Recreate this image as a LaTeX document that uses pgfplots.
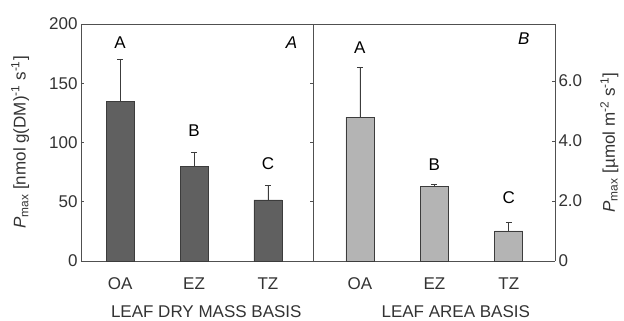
\documentclass[border=0pt]{standalone}
\usepackage{pgfplots}
\pgfplotsset{compat=1.18}
\usepackage{fontspec}
\setmainfont{Liberation Sans}
\definecolor{darkbar}{HTML}{606060}
\definecolor{lightbar}{HTML}{B4B4B4}
\definecolor{edge}{HTML}{3C3C3C}
\definecolor{axcol}{HTML}{505050}
\begin{document}
\begin{tikzpicture}[font=\fontsize{17}{19}\selectfont]
\useasboundingbox (0pt,0pt) rectangle (624pt,321pt);
\pgfplotsset{
  every axis/.append style={
    scale only axis,
    ymin=0,
    axis line style={axcol, line width=0.9pt},
    xtick={0,1,2},
    xticklabels={OA,EZ,TZ},
    x tick style={draw=none},
    tick label style={font=\fontsize{17}{19}\selectfont, text=black!80},
    label style={font=\fontsize{17}{19}\selectfont, text=black!80},
    /pgf/number format/assume math mode=true,
    clip=false,
    y tick style={axcol, line width=0.6pt},
    tick align=inside, major tick length=3pt,
    ybar, bar width=28pt,
    xticklabel style={anchor=center, yshift=-20pt},
  },
}
% Left panel
\begin{axis}[
  at={(81pt,60pt)}, anchor=south west,
  width=232pt, height=237pt,
  xmin=-0.53, xmax=2.61,
  ymax=200,
  ytick={0,50,100,150,200},
  ylabel={\textit{P}\textsubscript{max} [nmol g(DM)\textsuperscript{-1} s\textsuperscript{-1}]},
  ylabel style={at={(axis description cs:-0.262,0.5)}, anchor=center},
  xlabel={LEAF DRY MASS BASIS},
  xlabel style={at={(axis description cs:0.54,-0.215)}, anchor=center},
]
\addplot[fill=darkbar, draw=edge, line width=0.7pt,
  error bars/.cd, y dir=plus, y explicit, error mark=|,
  error bar style={edge, line width=0.8pt},
  error mark options={edge, line width=0.8pt, mark size=3pt}]
  coordinates {(0,135) +- (0,35.5) (1,80) +- (0,12) (2,51.5) +- (0,12.5)};
\node at (axis cs:0,184) {A};
\node at (axis cs:1,110) {B};
\node at (axis cs:2,82) {C};
\node at (axis cs:2.32,184) {\itshape A};
\end{axis}
% Right panel
\begin{axis}[
  at={(313pt,60pt)}, anchor=south west,
  width=242pt, height=237pt,
  xmin=-0.63, xmax=2.62,
  ymax=7.9,
  axis y line*=right,
  axis x line*=box,
  ytick={0,2,4,6},
  yticklabels={0,2.0,4.0,6.0},
  ylabel={\textit{P}\textsubscript{max} [\textmu mol m\textsuperscript{-2} s\textsuperscript{-1}]},
  ylabel style={at={(axis description cs:1.225,0.5)}, anchor=center},
  xlabel={LEAF AREA BASIS},
  xlabel style={at={(axis description cs:0.59,-0.215)}, anchor=center},
]
\addplot[fill=lightbar, draw=edge, line width=0.7pt,
  error bars/.cd, y dir=plus, y explicit, error mark=|,
  error bar style={edge, line width=0.8pt},
  error mark options={edge, line width=0.8pt, mark size=3pt}]
  coordinates {(0,4.8) +- (0,1.67) (1,2.5) +- (0,0.04) (2,1.0) +- (0,0.3)};
\node at (axis cs:0,7.1) {A};
\node at (axis cs:1,3.2) {B};
\node at (axis cs:2,2.1) {C};
\node at (axis cs:2.2,7.4) {\itshape B};
\draw[axcol, line width=0.9pt] (rel axis cs:0,0) -- (rel axis cs:0,1) -- (rel axis cs:1,1);
\end{axis}
\end{tikzpicture}
\end{document}
